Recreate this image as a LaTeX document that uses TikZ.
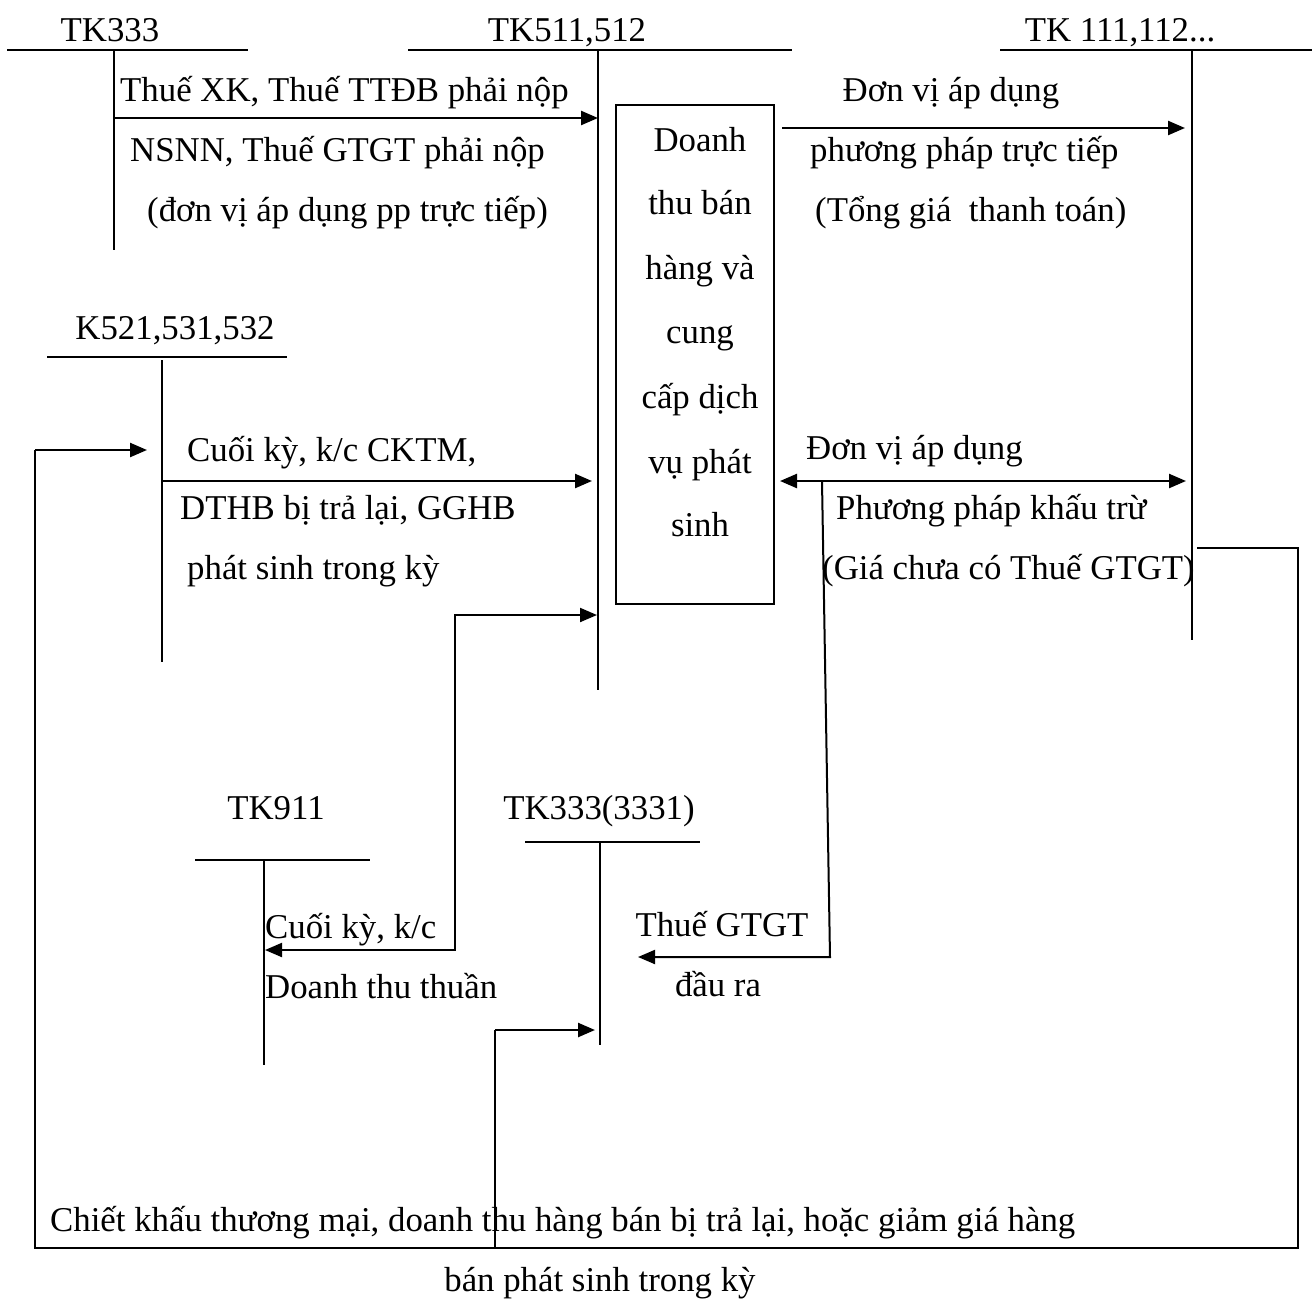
\documentclass[tikz,border=0pt]{standalone}
\usepackage{fontspec}
\setmainfont{Liberation Serif}
\usetikzlibrary{arrows.meta}
\begin{document}
\begin{tikzpicture}[x=1pt,y=-1pt,
  txt/.style={inner sep=0pt,font=\fontsize{34.8}{40}\selectfont},
  lt/.style={txt,anchor=base west},
  ct/.style={txt,anchor=base},
  acct/.style={line width=1.6pt},
  flow/.style={line width=2.4pt,-{Triangle[length=17pt,width=14pt]}},
  flow2/.style={line width=2.4pt,{Triangle[length=17pt,width=14pt]}-{Triangle[length=17pt,width=14pt]}},
  thin/.style={line width=1.6pt}]
\useasboundingbox (0,0) rectangle (1312,1302);

% ---- T-accounts: title, top bar, stem ----
\node[ct] (t333) at (110,41) {TK333};
\coordinate (a333l) at (7,50);  \coordinate (a333r) at (248,50);
\coordinate (a333t) at (114,50); \coordinate (a333b) at (114,250);
\draw[acct] (a333l) -- (a333r); \draw[acct] (a333t) -- (a333b);

\node[ct] (t511) at (567,41) {TK511,512};
\coordinate (a511l) at (408,50); \coordinate (a511r) at (792,50);
\coordinate (a511t) at (598,50); \coordinate (a511b) at (598,690);
\draw[acct] (a511l) -- (a511r); \draw[acct] (a511t) -- (a511b);

\node[ct] (t111) at (1120,41) {TK 111,112...};
\coordinate (a111l) at (1000,50); \coordinate (a111r) at (1312,50);
\coordinate (a111t) at (1192,50); \coordinate (a111b) at (1192,640);
\draw[acct] (a111l) -- (a111r); \draw[acct] (a111t) -- (a111b);

\node[ct] (t521) at (175,339) {K521,531,532};
\coordinate (a521l) at (47,357); \coordinate (a521r) at (287,357);
\coordinate (a521t) at (162,360); \coordinate (a521b) at (162,662);
\draw[acct] (a521l) -- (a521r); \draw[acct] (a521t) -- (a521b);

\node[ct] (t911) at (276,819) {TK911};
\coordinate (a911l) at (195,860); \coordinate (a911r) at (370,860);
\coordinate (a911t) at (264,860); \coordinate (a911b) at (264,1065);
\draw[acct] (a911l) -- (a911r); \draw[acct] (a911t) -- (a911b);

\node[ct] (t3331) at (599,819) {TK333(3331)};
\coordinate (a3331l) at (525,842); \coordinate (a3331r) at (700,842);
\coordinate (a3331t) at (600,842); \coordinate (a3331b) at (600,1045);
\draw[acct] (a3331l) -- (a3331r); \draw[acct] (a3331t) -- (a3331b);

% ---- central box ----
\draw[thin] (616,105) rectangle (774,604);
\node[ct] (b1) at (700,151) {Doanh};
\node[ct] (b2) at (700,214) {thu bán};
\node[ct] (b3) at (700,279) {hàng và};
\node[ct] (b4) at (700,343) {cung};
\node[ct] (b5) at (700,408) {cấp dịch};
\node[ct] (b6) at (700,473) {vụ phát};
\node[ct] (b7) at (700,536) {sinh};

% ---- TK333 -> TK511 ----
\coordinate (f1s) at (114,118); \coordinate (f1e) at (598,118);
\draw[flow] (f1s) -- (f1e);
\node[lt] (l1a) at (120,101) {Thuế XK, Thuế TTĐB phải nộp};
\node[lt] (l1b) at (130,161) {NSNN, Thuế GTGT phải nộp};
\node[lt] (l1c) at (147,221) {(đơn vị áp dụng pp trực tiếp)};

% ---- revenue -> cash (direct method) ----
\coordinate (f2s) at (782,128); \coordinate (f2e) at (1185,128);
\draw[flow] (f2s) -- (f2e);
\node[ct] (l2a) at (951,101) {Đơn vị áp dụng};
\node[lt] (l2b) at (810,161) {phương pháp trực tiếp};
\node[lt] (l2c) at (815,221) {(Tổng giá\ \ thanh toán)};

% ---- revenue <-> cash (deduction method) ----
\coordinate (f3s) at (780,481); \coordinate (f3e) at (1186,481);
\draw[flow2] (f3s) -- (f3e);
\node[lt] (l3a) at (806,459) {Đơn vị áp dụng};
\node[lt] (l3b) at (836,519) {Phương pháp khấu trừ};
\node[lt] (l3c) at (822,579) {(Giá chưa có Thuế GTGT)};

% ---- output VAT -> TK333(3331) ----
\coordinate (f4s) at (822,481); \coordinate (f4m) at (830,957);
\coordinate (f4e) at (638,957);
\draw[flow,line width=2pt] (f4s) -- (f4m) -- (f4e);
\node[ct] (l4a) at (722,936) {Thuế GTGT};
\node[ct] (l4b) at (718,996) {đầu ra};

% ---- K521 -> TK511 ----
\coordinate (f5s) at (162,481); \coordinate (f5e) at (592,481);
\draw[flow] (f5s) -- (f5e);
\node[lt] (l5a) at (187,461) {Cuối kỳ, k/c CKTM,};
\node[lt] (l5b) at (180,519) {DTHB bị trả lại, GGHB};
\node[lt] (l5c) at (187,579) {phát sinh trong kỳ};

% ---- TK511 <-> TK911 ----
\coordinate (f6s) at (597,615); \coordinate (f6m1) at (455,615);
\coordinate (f6m2) at (455,950); \coordinate (f6e) at (265,950);
\draw[flow2,line width=2pt] (f6s) -- (f6m1) -- (f6m2) -- (f6e);
\node[lt] (l6a) at (265,938) {Cuối kỳ, k/c};
\node[lt] (l6b) at (265,998) {Doanh thu thuần};

% ---- cash -> K521 around the bottom ----
\coordinate (g1) at (1197,548); \coordinate (g2) at (1298,548);
\coordinate (g3) at (1298,1248); \coordinate (g4) at (35,1248);
\coordinate (g5) at (35,450); \coordinate (g6) at (147,450);
\draw[thin] (g1) -- (g2) -- (g3) -- (g4) -- (g5);
\draw[flow] (g5) -- (g6);

% ---- branch -> TK333(3331) ----
\coordinate (h1) at (495,1248); \coordinate (h2) at (495,1030);
\coordinate (h3) at (595,1030);
\draw[thin] (h1) -- (h2);
\draw[flow] (h2) -- (h3);

\node[lt] (l7a) at (50,1231) {Chiết khấu thương mại, doanh thu hàng bán bị trả lại, hoặc giảm giá hàng};
\node[ct] (l7b) at (600,1291) {bán phát sinh trong kỳ};
\end{tikzpicture}
\end{document}
